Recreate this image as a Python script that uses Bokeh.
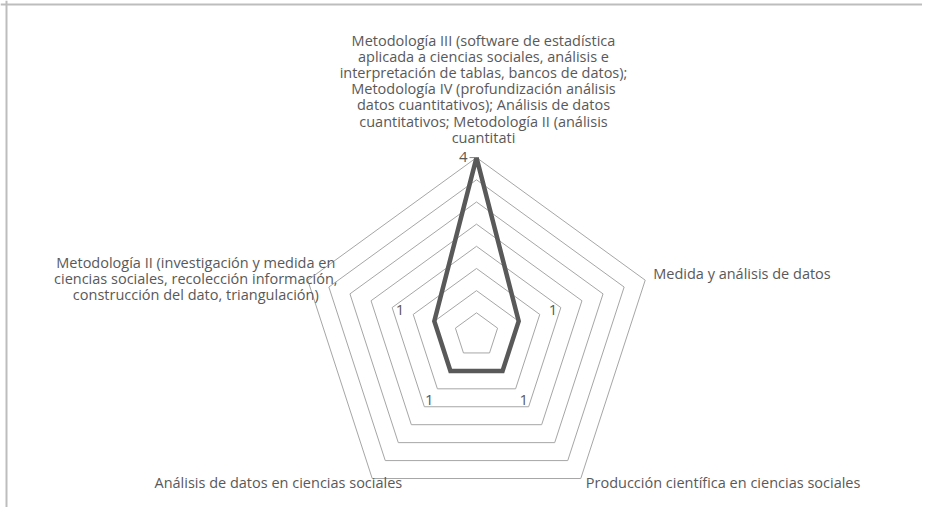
import numpy as np
from bokeh.plotting import figure
from bokeh.models import Range1d, Span, ColumnDataSource
from bokeh.core.properties import value
from bokeh.embed import file_html
from bokeh.resources import INLINE

# ---------------- data ----------------
categories = [
    "Metodología III (software de estadística\naplicada a ciencias sociales, análisis e\n"
    "interpretación de tablas, bancos de datos);\nMetodología IV (profundización análisis\n"
    "datos cuantitativos); Análisis de datos\ncuantitativos; Metodología II (análisis\ncuantitati",
    "Medida y análisis de datos",
    "Producción científica en ciencias sociales",
    "Análisis de datos en ciencias sociales",
    "Metodología II (investigación y medida en\nciencias sociales, recolección información,\n"
    "construcción del dato, triangulación)",
]
values = [4, 1, 1, 1, 1]
grid_levels = [0.5, 1.0, 1.5, 2.0, 2.5, 3.0, 3.5, 4.0]
r_max = 4.0
axis_tick_label = "4"

# ---------------- layout ----------------
W, H = 922, 507
cx, cy = 476.0, 334.5      # centre in pixels (from figure's left / top)
u = 44.35                  # pixels per unit

FONT = value("Open Sans")
TXT = "#595959"
GRID = "#a6a6a6"

n = len(categories)
ang = np.deg2rad(90 - 72 * np.arange(n))

p = figure(width=W, height=H, output_backend="svg", toolbar_location=None,
           x_range=Range1d(-cx / u, (W - cx) / u),
           y_range=Range1d(-(H - cy) / u, cy / u),
           x_axis_location=None, y_axis_location=None,
           min_border=0, min_border_left=0, min_border_right=0,
           min_border_top=0, min_border_bottom=0)
p.grid.visible = False
p.outline_line_color = None
p.background_fill_color = "white"

# frame lines (left and top)
p.add_layout(Span(location=p.x_range.start + 6 / u, dimension="height",
                  line_color="#bdbdbd", line_width=2))
p.add_layout(Span(location=p.y_range.end - 4 / u, dimension="width",
                  line_color="#bdbdbd", line_width=2))

# grid rings
for lv in grid_levels:
    xs = list(lv * np.cos(ang)) + [lv * np.cos(ang[0])]
    ys = list(lv * np.sin(ang)) + [lv * np.sin(ang[0])]
    p.line(xs, ys, line_color=GRID, line_width=1)

# data polygon
v = np.array(values, dtype=float)
dx = list(v * np.cos(ang)) + [v[0] * np.cos(ang[0])]
dy = list(v * np.sin(ang)) + [v[0] * np.sin(ang[0])]
p.line(dx, dy, line_color="#595959", line_width=4.5, line_join="miter")

# radial axis tick + label at max
p.segment(x0=[-7 / u], y0=[r_max], x1=[0], y1=[r_max], line_color="#808080", line_width=1)
p.text(x=[0], y=[r_max], text=[axis_tick_label], text_font=FONT, text_font_size="15px",
       text_color=TXT, text_align="right", text_baseline="middle", x_offset=-9, y_offset=-1)

# data labels (all but first, which coincides with the axis label)
lab_off = 36
src = ColumnDataSource(dict(
    x=list(v[1:] * np.cos(ang[1:])), y=list(v[1:] * np.sin(ang[1:])),
    t=[str(val) for val in values[1:]],
    xo=list(lab_off * np.cos(ang[1:])), yo=list(-lab_off * np.sin(ang[1:])),
))
p.text(x="x", y="y", text="t", x_offset="xo", y_offset="yo", source=src,
       text_font=FONT, text_font_size="15px", text_color=TXT,
       text_align="center", text_baseline="middle")

# category labels
aligns = ["center", "left", "left", "right", "center"]
baselines = ["bottom", "middle", "middle", "middle", "middle"]
xoffs = [7, 8, 5, 30, -112]
yoffs = [-11, -7, 4, 4, -2]
for i in range(n):
    p.text(x=[r_max * np.cos(ang[i])], y=[r_max * np.sin(ang[i])], text=[categories[i]],
           x_offset=xoffs[i], y_offset=yoffs[i], text_align=aligns[i],
           text_baseline=baselines[i], text_font=FONT, text_font_size="14.5px",
           text_color=TXT, text_line_height=0.845)

open("out.html", "w").write(file_html(p, INLINE))
